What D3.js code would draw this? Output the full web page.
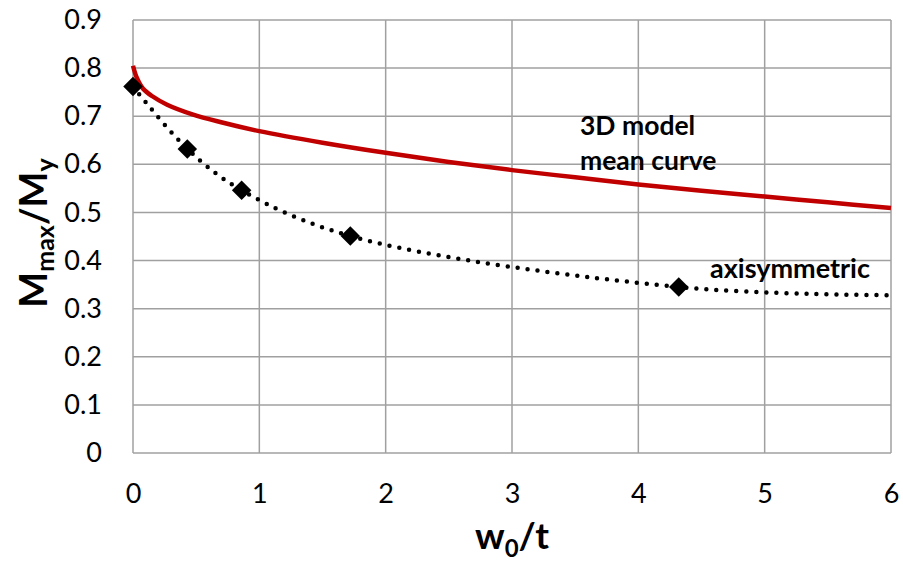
<!DOCTYPE html>
<html><head><meta charset="utf-8">
<script src="https://cdn.jsdelivr.net/npm/d3@7/dist/d3.min.js"></script>
<style>body{margin:0;background:#fff}svg{display:block}text{font-family:Lato,"Open Sans",sans-serif}</style>
</head><body><svg id="c" width="903" height="561"></svg>
<script>
// Data
const xTicks = [0,1,2,3,4,5,6];
const yTicks = [0,0.1,0.2,0.3,0.4,0.5,0.6,0.7,0.8,0.9];
const meanX = [0,0.03,0.08,0.15,0.27,0.47,0.69,1,1.5,2,2.5,3,3.5,4,4.5,5,5.5,6];
const meanY = [0.805,0.78,0.757,0.742,0.724,0.704,0.688,0.669,0.645,0.624,0.605,0.588,0.573,0.558,0.545,0.533,0.521,0.509];
const axiX = [0,0.43,0.86,1.72,4.32];
const axiY = [0.762,0.632,0.546,0.451,0.345];
const axiLineX = [0,0.43,0.86,1.72,4.32,6];
const axiLineY = [0.762,0.632,0.546,0.451,0.345,0.328];

const svg = d3.select("#c");
const x = d3.scaleLinear().domain([0,6]).range([133,891]);
const y = d3.scaleLinear().domain([0,0.9]).range([453,20]);

// gridlines
svg.append("g").selectAll("line").data(xTicks).join("line")
  .attr("x1",d=>x(d)).attr("x2",d=>x(d)).attr("y1",y(0)).attr("y2",y(0.9))
  .attr("stroke","#a0a0a0").attr("stroke-width",1.5);
svg.append("g").selectAll("line").data(yTicks).join("line")
  .attr("x1",x(0)).attr("x2",x(6)).attr("y1",d=>y(d)).attr("y2",d=>y(d))
  .attr("stroke","#a0a0a0").attr("stroke-width",1.5);

// axes labels via d3 axes
const ax = svg.append("g").attr("transform",`translate(0,${y(0)})`)
  .call(d3.axisBottom(x).tickValues(xTicks).tickFormat(d3.format("d")).tickSize(0).tickPadding(31));
ax.select(".domain").remove();
ax.selectAll("text").attr("font-size",27).attr("fill","#000").style("font-family","Lato");
const ay = svg.append("g").attr("transform",`translate(${x(0)},0)`)
  .call(d3.axisLeft(y).tickValues(yTicks).tickFormat(d=>d===0?"0":d3.format(".1f")(d)).tickSize(0).tickPadding(31));
ay.select(".domain").remove();
ay.selectAll("text").attr("font-size",27).attr("fill","#000").style("font-family","Lato");

// mean curve
svg.append("path").datum(meanX.map((v,i)=>[v,meanY[i]]))
  .attr("d",d3.line().x(d=>x(d[0])).y(d=>y(d[1])).curve(d3.curveCatmullRom))
  .attr("fill","none").attr("stroke","#c00000").attr("stroke-width",4.5);

// axisymmetric dotted
svg.append("path").datum(axiLineX.map((v,i)=>[v,axiLineY[i]]))
  .attr("d",d3.line().x(d=>x(d[0])).y(d=>y(d[1])).curve(d3.curveCatmullRom))
  .attr("fill","none").attr("stroke","#000").attr("stroke-width",4.5)
  .attr("stroke-linecap","round").attr("stroke-dasharray","0,10");

svg.append("g").selectAll("path").data(axiX.map((v,i)=>[v,axiY[i]])).join("path")
  .attr("d",d3.symbol(d3.symbolSquare,190))
  .attr("transform",d=>`translate(${x(d[0])},${y(d[1])}) rotate(45)`)
  .attr("fill","#000");

// annotations
svg.append("text").attr("x",580).attr("y",135).attr("font-size",26.5).attr("font-weight","bold").text("3D model");
svg.append("text").attr("x",580).attr("y",170).attr("font-size",26.5).attr("font-weight","bold").text("mean curve");
svg.append("text").attr("x",710).attr("y",278).attr("font-size",27).attr("font-weight","bold").text("axisymmetric");

// axis titles
const xt = svg.append("text").attr("x",512).attr("y",549).attr("text-anchor","middle")
  .attr("font-size",37).attr("font-weight","bold");
xt.append("tspan").text("w");
xt.append("tspan").attr("font-size",24).attr("dy",8).text("0");
xt.append("tspan").attr("dy",-8).text("/t");

const yt = svg.append("text").attr("transform","translate(47,233) rotate(-90)").attr("text-anchor","middle")
  .attr("font-size",38).attr("font-weight","bold");
yt.append("tspan").text("M");
yt.append("tspan").attr("font-size",25).attr("dy",7).text("max");
yt.append("tspan").attr("dy",-7).text("/M");
yt.append("tspan").attr("font-size",25).attr("dy",7).text("y");
</script></body></html>
